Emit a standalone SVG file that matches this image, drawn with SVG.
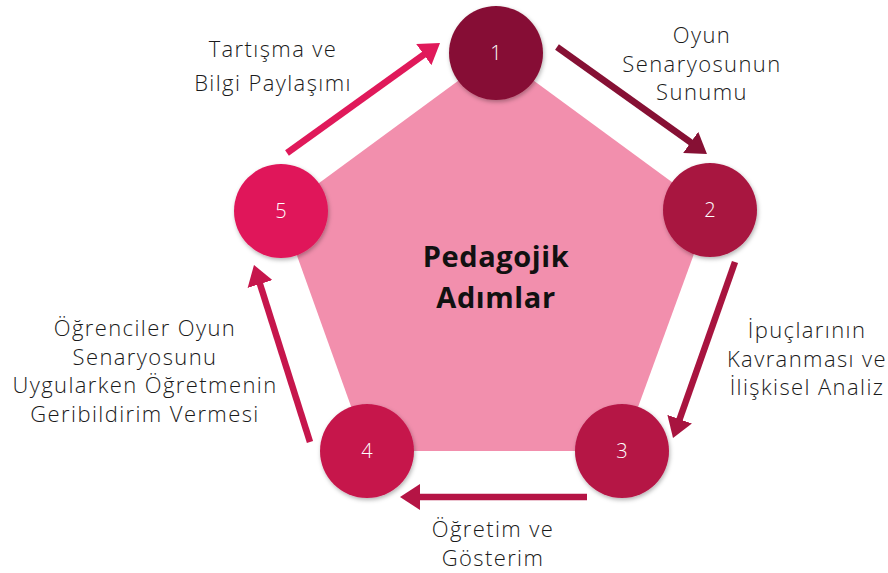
<svg xmlns="http://www.w3.org/2000/svg" width="888" height="573" viewBox="0 0 888 573">
<defs>
<style>
.lbl{font-family:"Open Sans","Liberation Sans",sans-serif;font-size:22px;font-weight:300;letter-spacing:1.4px;fill:#1a1a1a;text-anchor:middle}
.num{font-family:"Open Sans","Liberation Sans",sans-serif;font-size:20px;font-weight:300;fill:#ffffff;text-anchor:middle}
.title{font-family:"Open Sans","Liberation Sans",sans-serif;font-size:29px;font-weight:bold;letter-spacing:0.6px;fill:#111111;text-anchor:middle}
.arr{stroke-width:6.5;fill:none}
</style>
<filter id="sh" x="-20%" y="-20%" width="140%" height="140%">
<feDropShadow dx="1" dy="2" stdDeviation="2" flood-color="#000" flood-opacity="0.3"/>
</filter>
<marker id="m1" markerUnits="userSpaceOnUse" markerWidth="20" markerHeight="26" refX="8" refY="13" orient="auto"><path d="M0,0 L20,13 L0,26 z" fill="#861034"/></marker>
<marker id="m2" markerUnits="userSpaceOnUse" markerWidth="20" markerHeight="26" refX="8" refY="13" orient="auto"><path d="M0,0 L20,13 L0,26 z" fill="#A8143F"/></marker>
<marker id="m3" markerUnits="userSpaceOnUse" markerWidth="20" markerHeight="26" refX="8" refY="13" orient="auto"><path d="M0,0 L20,13 L0,26 z" fill="#B51445"/></marker>
<marker id="m4" markerUnits="userSpaceOnUse" markerWidth="20" markerHeight="26" refX="8" refY="13" orient="auto"><path d="M0,0 L20,13 L0,26 z" fill="#C6164C"/></marker>
<marker id="m5" markerUnits="userSpaceOnUse" markerWidth="20" markerHeight="26" refX="8" refY="13" orient="auto"><path d="M0,0 L20,13 L0,26 z" fill="#E0195A"/></marker>
</defs>
<rect width="888" height="573" fill="#ffffff"/>
<g id="pentagon">
<polygon points="496,53 710,210 622,451 367,451 281,211" fill="#F28FAD"/>
<text class="title" x="496" y="267">Pedagojik</text>
<text class="title" x="496" y="308">Adımlar</text>
</g>
<g id="connectors">
<line class="arr" x1="287" y1="153" x2="430.3" y2="50" stroke="#E0195A" marker-end="url(#m5)"/>
<line class="arr" x1="557" y1="47" x2="697.2" y2="147" stroke="#861034" marker-end="url(#m1)"/>
<line class="arr" x1="735" y1="262" x2="677" y2="426.7" stroke="#A8143F" marker-end="url(#m2)"/>
<line class="arr" x1="587" y1="497" x2="412" y2="497" stroke="#B51445" marker-end="url(#m3)"/>
<line class="arr" x1="310" y1="442" x2="257.6" y2="276.4" stroke="#C6164C" marker-end="url(#m4)"/>
</g>
<g id="node1">
<circle cx="496" cy="53" r="47" fill="#861034" filter="url(#sh)"/>
<text class="num" x="496" y="60">1</text>
</g>
<g id="node2">
<circle cx="710" cy="210" r="47" fill="#A8143F" filter="url(#sh)"/>
<text class="num" x="710" y="217">2</text>
</g>
<g id="node3">
<circle cx="622" cy="451" r="47" fill="#B51445" filter="url(#sh)"/>
<text class="num" x="622" y="458">3</text>
</g>
<g id="node4">
<circle cx="367" cy="451" r="47" fill="#C6164C" filter="url(#sh)"/>
<text class="num" x="367" y="458">4</text>
</g>
<g id="node5">
<circle cx="281" cy="211" r="47" fill="#E0195A" filter="url(#sh)"/>
<text class="num" x="281" y="218">5</text>
</g>
<g id="labels">
<text class="lbl" x="702" y="43">Oyun</text>
<text class="lbl" x="702" y="71.5">Senaryosunun</text>
<text class="lbl" x="702" y="100">Sunumu</text>
<text class="lbl" x="807" y="338">İpuçlarının</text>
<text class="lbl" x="807" y="367">Kavranması ve</text>
<text class="lbl" x="807" y="395">İlişkisel Analiz</text>
<text class="lbl" x="493" y="537">Öğretim ve</text>
<text class="lbl" x="493" y="566">Gösterim</text>
<text class="lbl" x="145" y="336">Öğrenciler Oyun</text>
<text class="lbl" x="145" y="365">Senaryosunu</text>
<text class="lbl" x="145" y="393">Uygularken Öğretmenin</text>
<text class="lbl" x="145" y="422">Geribildirim Vermesi</text>
<text class="lbl" x="273" y="57">Tartışma ve</text>
<text class="lbl" x="273" y="91">Bilgi Paylaşımı</text>
</g>
</svg>
